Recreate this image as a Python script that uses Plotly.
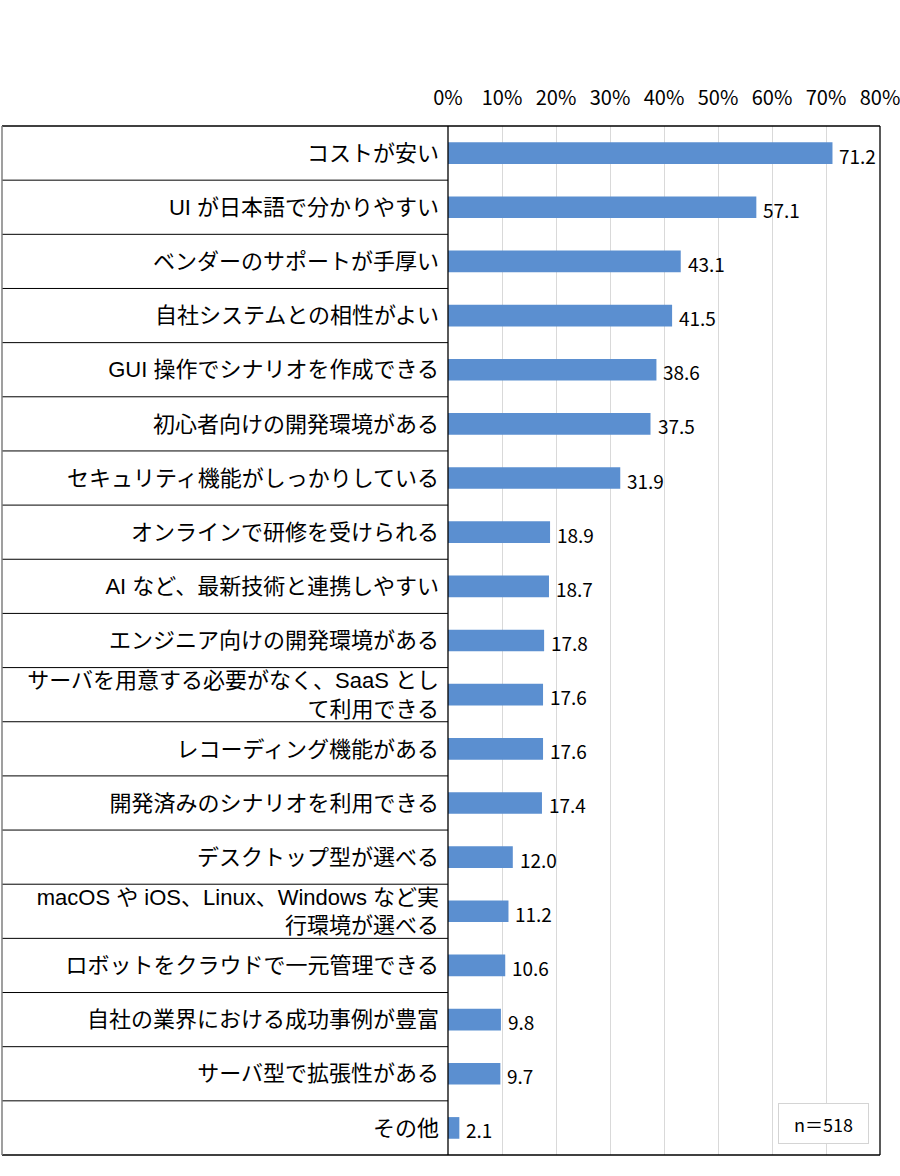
import plotly.graph_objects as go

categories = [
    "コストが安い",
    "UI が日本語で分かりやすい",
    "ベンダーのサポートが手厚い",
    "自社システムとの相性がよい",
    "GUI 操作でシナリオを作成できる",
    "初心者向けの開発環境がある",
    "セキュリティ機能がしっかりしている",
    "オンラインで研修を受けられる",
    "AI など、最新技術と連携しやすい",
    "エンジニア向けの開発環境がある",
    "サーバを用意する必要がなく、SaaS とし<br>て利用できる",
    "レコーディング機能がある",
    "開発済みのシナリオを利用できる",
    "デスクトップ型が選べる",
    "macOS や iOS、Linux、Windows など実<br>行環境が選べる",
    "ロボットをクラウドで一元管理できる",
    "自社の業界における成功事例が豊富",
    "サーバ型で拡張性がある",
    "その他",
]
values = [71.2, 57.1, 43.1, 41.5, 38.6, 37.5, 31.9, 18.9, 18.7, 17.8,
          17.6, 17.6, 17.4, 12.0, 11.2, 10.6, 9.8, 9.7, 2.1]
tick_vals = [0, 10, 20, 30, 40, 50, 60, 70, 80]
tick_text = [f"{v}%" for v in tick_vals]
sample_note = "n＝518"

FONT = "Noto Sans CJK JP"
LABEL_FONT = "Liberation Sans, Noto Sans CJK JP"
W, H = 900, 1176
L, R, T, B = 448, 20, 126, 21
plot_w = W - L - R
plot_h = H - T - B
left_edge = (2 - L) / plot_w

fig = go.Figure()
fig.add_trace(go.Bar(
    x=values, y=categories, orientation="h",
    marker=dict(color="#5B8FD0", line=dict(width=0)),
    width=0.4, hoverinfo="skip",
))

annotations = []
for c, v in zip(categories, values):
    annotations.append(dict(
        x=v, y=c, xref="x", yref="y", text=f"{v:.1f}",
        xanchor="left", yanchor="middle", xshift=5, yshift=-2,
        showarrow=False, font=dict(family=FONT, size=19, color="#000000"),
    ))
annotations.append(dict(
    x=(869 - L) / plot_w, y=11 / plot_h, xref="paper", yref="paper",
    text=sample_note, xanchor="right", yanchor="bottom", showarrow=False,
    width=75, height=25, align="center", valign="middle",
    font=dict(family=FONT, size=18, color="#000000"),
    bordercolor="#d4d4d4", borderwidth=1, borderpad=7, bgcolor="#ffffff",
))

shapes = []
n = len(categories)
for k in range(1, n):
    shapes.append(dict(type="line", xref="paper", yref="paper",
                       x0=left_edge, x1=0, y0=k / n, y1=k / n,
                       line=dict(color="#000000", width=1)))
# outer frame
shapes.append(dict(type="line", xref="paper", yref="paper", x0=left_edge, x1=1, y0=1, y1=1,
                   line=dict(color="#000000", width=1.3)))
shapes.append(dict(type="line", xref="paper", yref="paper", x0=left_edge, x1=1, y0=0, y1=0,
                   line=dict(color="#000000", width=1.3)))
shapes.append(dict(type="line", xref="paper", yref="paper", x0=left_edge, x1=left_edge,
                   y0=0, y1=1, line=dict(color="#7f7f7f", width=1.5)))
shapes.append(dict(type="line", xref="paper", yref="paper", x0=1, x1=1, y0=0, y1=1,
                   line=dict(color="#000000", width=1.3)))
shapes.append(dict(type="line", xref="paper", yref="paper", x0=0, x1=0, y0=0, y1=1,
                   line=dict(color="#000000", width=1.3)))

fig.update_layout(
    width=W, height=H, autosize=False,
    margin=dict(l=L, r=R, t=T, b=B, pad=0, autoexpand=False),
    paper_bgcolor="#ffffff", plot_bgcolor="#ffffff",
    showlegend=False, bargap=0.6,
    font=dict(family=FONT, color="#000000"),
    xaxis=dict(
        side="top", range=[0, 80], tickvals=tick_vals, ticktext=tick_text,
        showgrid=True, gridcolor="#d9d9d9", gridwidth=1, zeroline=False,
        showline=False, ticks="", ticklabelstandoff=16, ticklabeloverflow="allow",
        tickfont=dict(family=FONT, size=20, color="#000000"),
        fixedrange=True, automargin=False,
    ),
    yaxis=dict(
        autorange="reversed", showgrid=False, zeroline=False, showline=False,
        ticks="", ticklabelstandoff=8,
        tickfont=dict(family=LABEL_FONT, size=22, color="#000000"),
        fixedrange=True, automargin=False,
    ),
    annotations=annotations,
    shapes=shapes,
)

fig.write_html(
    "out.html",
    config={"responsive": False, "displayModeBar": False},
    post_script="document.body.style.margin='0';document.body.style.overflow='hidden';",
)
